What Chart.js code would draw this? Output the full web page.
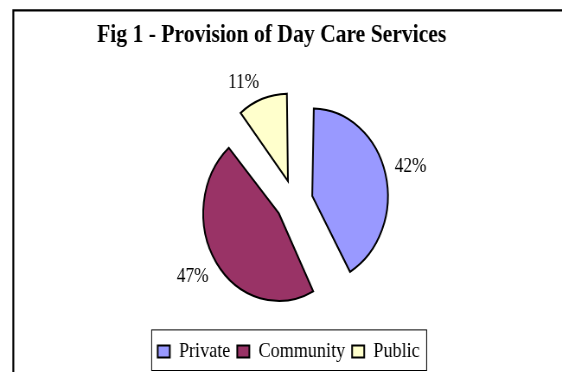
<!DOCTYPE html>
<html><head><meta charset="utf-8">
<script src="https://cdn.jsdelivr.net/npm/chart.js@4.4.0/dist/chart.umd.min.js"></script>
<style>
html,body{margin:0;padding:0;background:#fff;overflow:hidden;}
#wrap{width:650px;height:372px;transform:scaleX(0.86462);transform-origin:0 0;}
canvas{display:block;}
</style></head><body>
<div id="wrap"><canvas id="c" width="650" height="372"></canvas></div>
<script>
const titleText = 'Fig 1 - Provision of Day Care Services';
const categories = ['Private', 'Community', 'Public'];
const shares = [42, 47, 11];
const sliceColors = ['#9999FF', '#993366', '#FFFFCC'];

const FONT = "'Liberation Serif', 'Times New Roman', serif";
const RADIUS = 87.5, OFFSET = 86, OFFSET_DIV = 4, LABEL_GAP = 11, LABEL_SIZE = 20;

const customPlugin = {
  id: 'custom',
  beforeDraw(chart) {
    const ctx = chart.ctx;
    ctx.save();
    ctx.fillStyle = '#fff';
    ctx.fillRect(0, 0, chart.width, chart.height);
    ctx.strokeStyle = '#000';
    ctx.lineWidth = 2.2;
    ctx.beginPath();
    ctx.moveTo(15.4, chart.height + 5);
    ctx.lineTo(15.4, 10.3);
    ctx.lineTo(chart.width + 5, 10.3);
    ctx.stroke();
    ctx.restore();
  },
  afterLayout(chart) {
    const t = chart.titleBlock;
    if (t) { t.left -= 26.1; t.right -= 26.1; }
    const l = chart.legend;
    if (l) { l.left -= 6.4; l.right -= 6.4; }
  },
  afterDatasetUpdate(chart, args) {
    args.meta.data.forEach(arc => {
      const off = OFFSET / OFFSET_DIV;
      const fix = 1 - Math.sin(Math.min(Math.PI, arc.circumference || 0));
      arc.outerRadius = RADIUS - off * fix;
    });
  },
  afterDatasetsDraw(chart) {
    const ctx = chart.ctx;
    const meta = chart.getDatasetMeta(0);
    const total = shares.reduce((a, b) => a + b, 0);
    ctx.save();
    ctx.font = LABEL_SIZE + 'px ' + FONT;
    ctx.fillStyle = '#000';
    ctx.textBaseline = 'alphabetic';
    ctx.textAlign = 'left';
    const capH = 0.66 * LABEL_SIZE;
    meta.data.forEach((arc, i) => {
      const mid = (arc.startAngle + arc.endAngle) / 2;
      const ux = Math.cos(mid), uy = Math.sin(mid);
      const d = OFFSET / OFFSET_DIV;
      const vx = arc.x + ux * d, vy = arc.y + uy * d;
      const px = vx + ux * (RADIUS + LABEL_GAP), py = vy + uy * (RADIUS + LABEL_GAP);
      const txt = Math.round(shares[i] / total * 100) + '%';
      const w = ctx.measureText(txt).width;
      const left = ux >= 0 ? px : px - w;
      const base = uy <= 0 ? py : py + capH;
      ctx.fillText(txt, left, base);
    });
    ctx.restore();
  },
  afterDraw(chart) {
    const lg = chart.legend;
    const hb = lg && lg.legendHitBoxes;
    if (!hb || !hb.length) return;
    const ctx = chart.ctx;
    const last = hb[hb.length - 1];
    const x0 = hb[0].left - 7, x1 = last.left + last.width + 8;
    const y0 = lg.top - 3.1, y1 = chart.height - 1.5;
    ctx.save();
    ctx.strokeStyle = '#000';
    ctx.lineWidth = 1;
    ctx.strokeRect(x0, y0, x1 - x0, y1 - y0);
    ctx.restore();
  }
};

new Chart(document.getElementById('c'), {
  type: 'pie',
  data: {
    labels: categories,
    datasets: [{
      data: shares,
      backgroundColor: sliceColors,
      borderColor: '#000',
      borderWidth: 2,
      borderJoinStyle: 'miter',
      offset: OFFSET,
      hoverOffset: OFFSET,
      radius: RADIUS
    }]
  },
  options: {
    responsive: false,
    devicePixelRatio: 1,
    animation: false,
    events: [],
    layout: { padding: { left: 30.6, right: 0, top: 0, bottom: 0 } },
    plugins: {
      title: {
        display: true,
        text: titleText,
        color: '#000',
        font: { family: FONT, size: 25, weight: 'bold', lineHeight: 1.2 },
        padding: { top: 20.1, bottom: 19.6 }
      },
      legend: {
        position: 'bottom',
        maxHeight: 40.9,
        labels: {
          boxWidth: 14,
          boxHeight: 12,
          padding: 8,
          color: '#000',
          font: { family: FONT, size: 21 }
        }
      },
      tooltip: { enabled: false }
    }
  },
  plugins: [customPlugin]
});
</script>
</body></html>
